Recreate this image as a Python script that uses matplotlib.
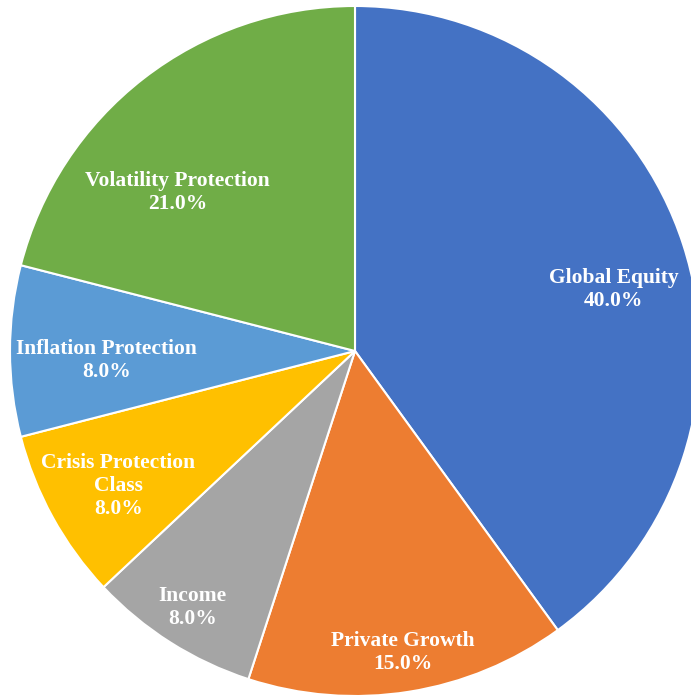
import matplotlib.pyplot as plt
import numpy as np

categories = ['Global Equity', 'Private Growth', 'Income', 'Crisis Protection\nClass',
              'Inflation Protection', 'Volatility Protection']
shares = [40.0, 15.0, 8.0, 8.0, 8.0, 21.0]
colors = ['#4472C4', '#ED7D31', '#A5A5A5', '#FFC000', '#5B9BD5', '#70AD47']

# label placement (radius, angle offset in degrees) tuned to the reference
label_r = [0.77, 0.885, 0.88, 0.79, 0.72, 0.69]
label_off = [-4.7, 0.0, 0.0, 0.9, 2.3, 10.4]

fig = plt.figure(figsize=(6.91, 6.96), dpi=100)
ax = fig.add_axes([0, 0, 1, 1])

wedges, _ = ax.pie(shares, colors=colors, startangle=90, counterclock=False,
                   radius=1.0, wedgeprops=dict(edgecolor='white', linewidth=1.5))

for w, name, val, r, off in zip(wedges, categories, shares, label_r, label_off):
    mid = np.deg2rad((w.theta1 + w.theta2) / 2 + off)
    ax.text(r * np.cos(mid), r * np.sin(mid), f'{name}\n{val:.1f}%',
            ha='center', va='center', color='white', fontsize=15.5,
            fontweight='bold', family='Liberation Serif', linespacing=1.2)

ax.set_xlim(-355 / 345, 336 / 345)
ax.set_ylim(-345 / 345, 351 / 345)
ax.set_aspect('equal')
ax.axis('off')

fig.savefig('out.png', dpi=100)
